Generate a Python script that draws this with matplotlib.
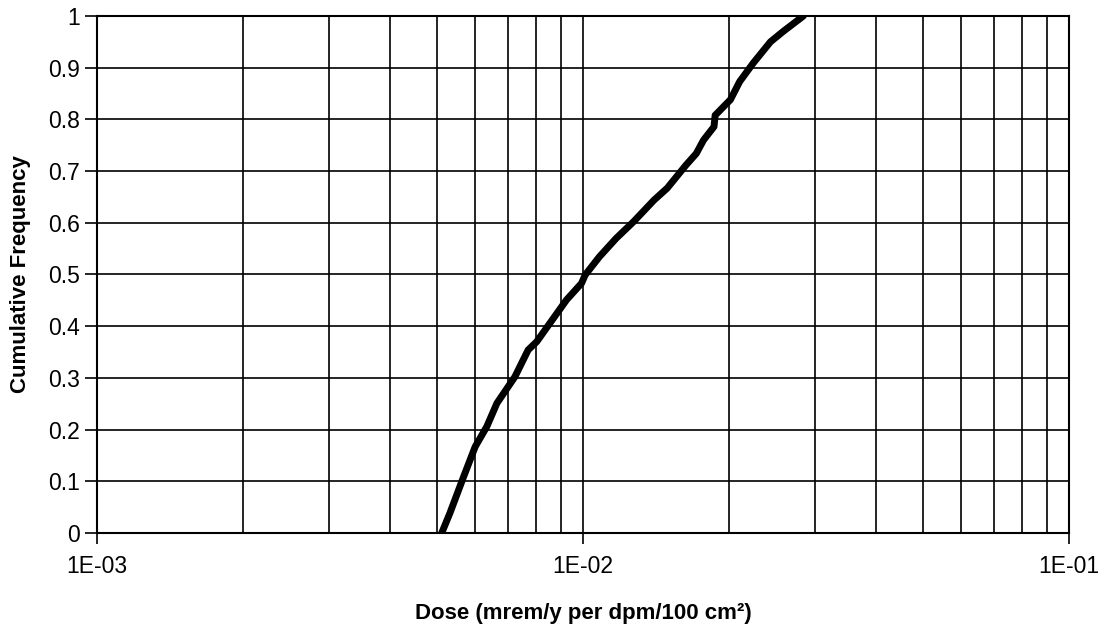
import numpy as np
import matplotlib
matplotlib.use('Agg')
import matplotlib.pyplot as plt
from matplotlib.ticker import LogLocator, FixedLocator, NullFormatter

plt.rcParams['font.family'] = ['Liberation Sans', 'DejaVu Sans']

# values
dose = [5.12e-3, 5.32e-3, 5.68e-3, 6.00e-3, 6.34e-3, 6.65e-3, 7.24e-3, 7.71e-3,
        8.03e-3, 8.55e-3, 9.25e-3, 9.93e-3, 1.01e-2, 1.08e-2, 1.17e-2, 1.27e-2,
        1.40e-2, 1.49e-2, 1.63e-2, 1.71e-2, 1.77e-2, 1.86e-2, 1.87e-2, 2.01e-2,
        2.10e-2, 2.24e-2, 2.43e-2, 2.58e-2, 2.84e-2]
freq = [0.0, 0.038, 0.109, 0.167, 0.206, 0.251, 0.302, 0.354,
        0.370, 0.406, 0.451, 0.483, 0.499, 0.534, 0.570, 0.602,
        0.644, 0.667, 0.712, 0.734, 0.760, 0.786, 0.808, 0.838,
        0.873, 0.909, 0.950, 0.970, 1.0]
xticklabels = ['1E-03', '1E-02', '1E-01']

fig = plt.figure(figsize=(11.1, 6.28), dpi=100)
ax = fig.add_axes([0.0874, 0.1513, 0.8757, 0.8232])

ax.plot(dose, freq, color='black', lw=5, solid_capstyle='round',
        solid_joinstyle='round', zorder=3)

ax.set_xscale('log')
ax.set_xlim(1e-3, 1e-1)
ax.set_ylim(0, 1)
ax.xaxis.set_major_locator(FixedLocator([1e-3, 1e-2, 1e-1]))
ax.set_xticklabels(xticklabels)
ax.xaxis.set_minor_locator(LogLocator(base=10, subs=np.arange(2, 10)))
ax.xaxis.set_minor_formatter(NullFormatter())
ax.set_yticks(np.arange(0, 1.01, 0.1))
ax.set_yticklabels(['0'] + [f'{v:.1f}' for v in np.arange(0.1, 0.95, 0.1)] + ['1'])

ax.grid(True, which='both', axis='x', color='black', lw=1.2)
ax.grid(True, which='major', axis='y', color='black', lw=1.2)
ax.tick_params(axis='both', which='major', labelsize=16.5, color='black', length=9, width=1.2)
ax.tick_params(axis='x', which='minor', length=0)
ax.tick_params(axis='x', which='major', length=8, pad=8)
for s in ax.spines.values():
    s.set_linewidth(1.5)
    s.set_color('black')

ax.set_xlabel('Dose (mrem/y per dpm/100 cm²)', fontsize=16, fontweight='bold', labelpad=18)
ax.set_ylabel('Cumulative Frequency', fontsize=16, fontweight='bold', labelpad=12)

fig.savefig('out.png', dpi=100)
